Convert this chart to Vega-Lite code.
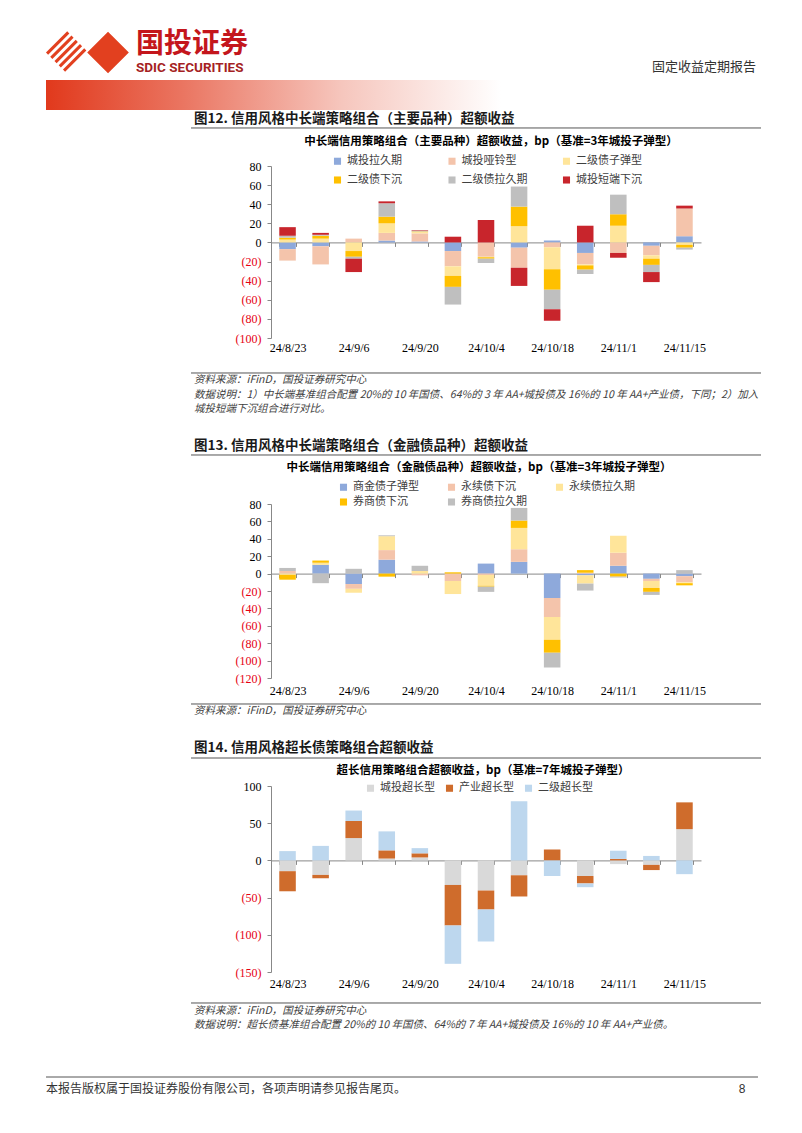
{
"$schema": "https://vega.github.io/schema/vega-lite/v6.json",
"background": "white",
"padding": {"left": 45, "top": 30, "right": 0, "bottom": 0},
"autosize": {"type": "pad"},
"bounds": "flush",
"spacing": 0,
"resolve": {"scale": {"x": "independent", "y": "independent", "color": "independent"}},
"config": {
  "view": {"stroke": null},
  "font": "Noto Sans CJK SC",
  "legend": {"symbolStrokeWidth": 0, "symbolType": "square", "symbolSize": 50, "labelFontSize": 11, "labelFont": "Noto Sans CJK SC", "labelColor": "#404040", "title": null, "gridAlign": "all", "labelOffset": 4}
},
"datasets": {
  "c1": [
    {"date":"24/8/23","series":"城投拉久期","k":1,"value":-7},{"date":"24/8/23","series":"城投哑铃型","k":2,"value":-12},{"date":"24/8/23","series":"二级债子弹型","k":3,"value":3},{"date":"24/8/23","series":"二级债下沉","k":4,"value":2},{"date":"24/8/23","series":"二级债拉久期","k":5,"value":2},{"date":"24/8/23","series":"城投短端下沉","k":6,"value":9},
    {"date":"24/8/30","series":"城投拉久期","k":1,"value":-4},{"date":"24/8/30","series":"城投哑铃型","k":2,"value":-19},{"date":"24/8/30","series":"二级债子弹型","k":3,"value":4},{"date":"24/8/30","series":"二级债下沉","k":4,"value":3},{"date":"24/8/30","series":"二级债拉久期","k":5,"value":1},{"date":"24/8/30","series":"城投短端下沉","k":6,"value":2},
    {"date":"24/9/6","series":"城投哑铃型","k":2,"value":4},{"date":"24/9/6","series":"二级债子弹型","k":3,"value":-9},{"date":"24/9/6","series":"二级债下沉","k":4,"value":-6},{"date":"24/9/6","series":"二级债拉久期","k":5,"value":-2},{"date":"24/9/6","series":"城投短端下沉","k":6,"value":-14},
    {"date":"24/9/13","series":"城投拉久期","k":1,"value":2},{"date":"24/9/13","series":"城投哑铃型","k":2,"value":8},{"date":"24/9/13","series":"二级债子弹型","k":3,"value":10},{"date":"24/9/13","series":"二级债下沉","k":4,"value":7},{"date":"24/9/13","series":"二级债拉久期","k":5,"value":14},{"date":"24/9/13","series":"城投短端下沉","k":6,"value":2},
    {"date":"24/9/20","series":"城投拉久期","k":1,"value":1},{"date":"24/9/20","series":"城投哑铃型","k":2,"value":8.5},{"date":"24/9/20","series":"二级债子弹型","k":3,"value":1.5},{"date":"24/9/20","series":"二级债下沉","k":4,"value":0.5},{"date":"24/9/20","series":"二级债拉久期","k":5,"value":1},{"date":"24/9/20","series":"城投短端下沉","k":6,"value":0.5},
    {"date":"24/9/27","series":"城投拉久期","k":1,"value":-9},{"date":"24/9/27","series":"城投哑铃型","k":2,"value":-16},{"date":"24/9/27","series":"二级债子弹型","k":3,"value":-10},{"date":"24/9/27","series":"二级债下沉","k":4,"value":-11.5},{"date":"24/9/27","series":"二级债拉久期","k":5,"value":-18.5},{"date":"24/9/27","series":"城投短端下沉","k":6,"value":6},
    {"date":"24/10/4","series":"城投哑铃型","k":2,"value":-15},{"date":"24/10/4","series":"二级债子弹型","k":3,"value":-0.5},{"date":"24/10/4","series":"二级债下沉","k":4,"value":-1.5},{"date":"24/10/4","series":"二级债拉久期","k":5,"value":-4.5},{"date":"24/10/4","series":"城投短端下沉","k":6,"value":23.5},
    {"date":"24/10/11","series":"城投拉久期","k":1,"value":-5.5},{"date":"24/10/11","series":"城投哑铃型","k":2,"value":-21},{"date":"24/10/11","series":"二级债子弹型","k":3,"value":17},{"date":"24/10/11","series":"二级债下沉","k":4,"value":20.5},{"date":"24/10/11","series":"二级债拉久期","k":5,"value":21},{"date":"24/10/11","series":"城投短端下沉","k":6,"value":-19},
    {"date":"24/10/18","series":"城投拉久期","k":1,"value":2},{"date":"24/10/18","series":"城投哑铃型","k":2,"value":-5},{"date":"24/10/18","series":"二级债子弹型","k":3,"value":-23},{"date":"24/10/18","series":"二级债下沉","k":4,"value":-21.5},{"date":"24/10/18","series":"二级债拉久期","k":5,"value":-20.5},{"date":"24/10/18","series":"城投短端下沉","k":6,"value":-12},
    {"date":"24/10/25","series":"城投拉久期","k":1,"value":-11},{"date":"24/10/25","series":"城投哑铃型","k":2,"value":-12},{"date":"24/10/25","series":"二级债子弹型","k":3,"value":-1},{"date":"24/10/25","series":"二级债下沉","k":4,"value":-4.5},{"date":"24/10/25","series":"二级债拉久期","k":5,"value":-4.5},{"date":"24/10/25","series":"城投短端下沉","k":6,"value":17.5},
    {"date":"24/11/1","series":"城投哑铃型","k":2,"value":-11},{"date":"24/11/1","series":"二级债子弹型","k":3,"value":17.5},{"date":"24/11/1","series":"二级债下沉","k":4,"value":12},{"date":"24/11/1","series":"二级债拉久期","k":5,"value":20.5},{"date":"24/11/1","series":"城投短端下沉","k":6,"value":-5},
    {"date":"24/11/8","series":"城投拉久期","k":1,"value":-3.5},{"date":"24/11/8","series":"城投哑铃型","k":2,"value":-10},{"date":"24/11/8","series":"二级债子弹型","k":3,"value":-3.5},{"date":"24/11/8","series":"二级债下沉","k":4,"value":-6.5},{"date":"24/11/8","series":"二级债拉久期","k":5,"value":-7.5},{"date":"24/11/8","series":"城投短端下沉","k":6,"value":-10.5},
    {"date":"24/11/15","series":"城投拉久期","k":1,"value":6.5},{"date":"24/11/15","series":"城投哑铃型","k":2,"value":29},{"date":"24/11/15","series":"二级债子弹型","k":3,"value":-2.5},{"date":"24/11/15","series":"二级债下沉","k":4,"value":-3},{"date":"24/11/15","series":"二级债拉久期","k":5,"value":-2},{"date":"24/11/15","series":"城投短端下沉","k":6,"value":3}
  ],
  "c2": [
    {"date":"24/8/23","series":"永续债下沉","k":2,"value":3},{"date":"24/8/23","series":"永续债拉久期","k":3,"value":-1.5},{"date":"24/8/23","series":"券商债下沉","k":4,"value":-5.5},{"date":"24/8/23","series":"券商债拉久期","k":5,"value":3.5},
    {"date":"24/8/30","series":"商金债子弹型","k":1,"value":10},{"date":"24/8/30","series":"永续债拉久期","k":3,"value":2.5},{"date":"24/8/30","series":"券商债下沉","k":4,"value":2.5},{"date":"24/8/30","series":"券商债拉久期","k":5,"value":-11},
    {"date":"24/9/6","series":"商金债子弹型","k":1,"value":-12},{"date":"24/9/6","series":"永续债下沉","k":2,"value":-5.5},{"date":"24/9/6","series":"永续债拉久期","k":3,"value":-4.5},{"date":"24/9/6","series":"券商债拉久期","k":5,"value":5.5},
    {"date":"24/9/13","series":"商金债子弹型","k":1,"value":16},{"date":"24/9/13","series":"永续债下沉","k":2,"value":11},{"date":"24/9/13","series":"永续债拉久期","k":3,"value":16},{"date":"24/9/13","series":"券商债下沉","k":4,"value":-3.5},{"date":"24/9/13","series":"券商债拉久期","k":5,"value":1},
    {"date":"24/9/20","series":"永续债下沉","k":2,"value":-2},{"date":"24/9/20","series":"永续债拉久期","k":3,"value":3},{"date":"24/9/20","series":"券商债拉久期","k":5,"value":6},
    {"date":"24/9/27","series":"永续债下沉","k":2,"value":-8.5},{"date":"24/9/27","series":"永续债拉久期","k":3,"value":-15},{"date":"24/9/27","series":"券商债下沉","k":4,"value":1.5},
    {"date":"24/10/4","series":"商金债子弹型","k":1,"value":11.5},{"date":"24/10/4","series":"永续债下沉","k":2,"value":-1.5},{"date":"24/10/4","series":"永续债拉久期","k":3,"value":-12.5},{"date":"24/10/4","series":"券商债下沉","k":4,"value":-1},{"date":"24/10/4","series":"券商债拉久期","k":5,"value":-6},
    {"date":"24/10/11","series":"商金债子弹型","k":1,"value":13.5},{"date":"24/10/11","series":"永续债下沉","k":2,"value":14.5},{"date":"24/10/11","series":"永续债拉久期","k":3,"value":24.5},{"date":"24/10/11","series":"券商债下沉","k":4,"value":8.5},{"date":"24/10/11","series":"券商债拉久期","k":5,"value":14.5},
    {"date":"24/10/18","series":"商金债子弹型","k":1,"value":-28},{"date":"24/10/18","series":"永续债下沉","k":2,"value":-22},{"date":"24/10/18","series":"永续债拉久期","k":3,"value":-26},{"date":"24/10/18","series":"券商债下沉","k":4,"value":-15},{"date":"24/10/18","series":"券商债拉久期","k":5,"value":-17},
    {"date":"24/10/25","series":"商金债子弹型","k":1,"value":-2},{"date":"24/10/25","series":"永续债下沉","k":2,"value":1},{"date":"24/10/25","series":"永续债拉久期","k":3,"value":-9.5},{"date":"24/10/25","series":"券商债下沉","k":4,"value":3},{"date":"24/10/25","series":"券商债拉久期","k":5,"value":-8},
    {"date":"24/11/1","series":"商金债子弹型","k":1,"value":9},{"date":"24/11/1","series":"永续债下沉","k":2,"value":15},{"date":"24/11/1","series":"永续债拉久期","k":3,"value":19.5},{"date":"24/11/1","series":"券商债下沉","k":4,"value":-3.5},{"date":"24/11/1","series":"券商债拉久期","k":5,"value":-1},
    {"date":"24/11/8","series":"商金债子弹型","k":1,"value":-6},{"date":"24/11/8","series":"永续债下沉","k":2,"value":-2.5},{"date":"24/11/8","series":"永续债拉久期","k":3,"value":-8},{"date":"24/11/8","series":"券商债下沉","k":4,"value":-4.5},{"date":"24/11/8","series":"券商债拉久期","k":5,"value":-3.5},
    {"date":"24/11/15","series":"商金债子弹型","k":1,"value":-3},{"date":"24/11/15","series":"永续债下沉","k":2,"value":-7},{"date":"24/11/15","series":"永续债拉久期","k":3,"value":-1},{"date":"24/11/15","series":"券商债下沉","k":4,"value":-2.5},{"date":"24/11/15","series":"券商债拉久期","k":5,"value":4}
  ],
  "c3": [
    {"date":"24/8/23","series":"城投超长型","k":1,"value":-14.5},{"date":"24/8/23","series":"产业超长型","k":2,"value":-27},{"date":"24/8/23","series":"二级超长型","k":3,"value":12.5},
    {"date":"24/8/30","series":"城投超长型","k":1,"value":-19.5},{"date":"24/8/30","series":"产业超长型","k":2,"value":-4.5},{"date":"24/8/30","series":"二级超长型","k":3,"value":19.5},
    {"date":"24/9/6","series":"城投超长型","k":1,"value":30},{"date":"24/9/6","series":"产业超长型","k":2,"value":23},{"date":"24/9/6","series":"二级超长型","k":3,"value":14},
    {"date":"24/9/13","series":"城投超长型","k":1,"value":2.5},{"date":"24/9/13","series":"产业超长型","k":2,"value":11},{"date":"24/9/13","series":"二级超长型","k":3,"value":25.5},
    {"date":"24/9/20","series":"城投超长型","k":1,"value":4},{"date":"24/9/20","series":"产业超长型","k":2,"value":5.5},{"date":"24/9/20","series":"二级超长型","k":3,"value":7},
    {"date":"24/9/27","series":"城投超长型","k":1,"value":-33},{"date":"24/9/27","series":"产业超长型","k":2,"value":-54.5},{"date":"24/9/27","series":"二级超长型","k":3,"value":-51.5},
    {"date":"24/10/4","series":"城投超长型","k":1,"value":-40.5},{"date":"24/10/4","series":"产业超长型","k":2,"value":-25.5},{"date":"24/10/4","series":"二级超长型","k":3,"value":-43},
    {"date":"24/10/11","series":"城投超长型","k":1,"value":-20},{"date":"24/10/11","series":"产业超长型","k":2,"value":-28.5},{"date":"24/10/11","series":"二级超长型","k":3,"value":79.5},
    {"date":"24/10/18","series":"产业超长型","k":2,"value":14.5},{"date":"24/10/18","series":"二级超长型","k":3,"value":-21},
    {"date":"24/10/25","series":"城投超长型","k":1,"value":-21},{"date":"24/10/25","series":"产业超长型","k":2,"value":-10},{"date":"24/10/25","series":"二级超长型","k":3,"value":-5},
    {"date":"24/11/1","series":"城投超长型","k":1,"value":-5},{"date":"24/11/1","series":"产业超长型","k":2,"value":2},{"date":"24/11/1","series":"二级超长型","k":3,"value":11},
    {"date":"24/11/8","series":"城投超长型","k":1,"value":-6},{"date":"24/11/8","series":"产业超长型","k":2,"value":-7},{"date":"24/11/8","series":"二级超长型","k":3,"value":6},
    {"date":"24/11/15","series":"城投超长型","k":1,"value":42},{"date":"24/11/15","series":"产业超长型","k":2,"value":36},{"date":"24/11/15","series":"二级超长型","k":3,"value":-18.5}
  ]
},
"vconcat": [
  {
    "width": 715, "height": 50,
    "data": {"values": [{}]},
    "layer": [
      {"mark": {"type": "point", "shape": "M-1,0L-0.5,-0.5L-0.45,-0.45L-0.95,0.05Z M-0.9,0.1L-0.4,-0.4L-0.35,-0.35L-0.85,0.15Z M-0.8,0.2L-0.3,-0.3L-0.25,-0.25L-0.75,0.25Z M-0.7,0.3L-0.2,-0.2L-0.15,-0.15L-0.65,0.35Z M-0.6,0.4L-0.1,-0.1L-0.05,-0.05L-0.55,0.45Z M-0.03,0L0.46,-0.49L0.95,0L0.46,0.49Z", "filled": true, "color": "#E2401F", "opacity": 1, "size": 7225, "strokeWidth": 0},
       "encoding": {"x": {"datum": 0.0594, "type": "quantitative", "scale": {"domain": [0, 1], "nice": false, "zero": false}, "axis": null}, "y": {"datum": 0.55, "type": "quantitative", "scale": {"domain": [0, 1], "nice": false, "zero": false}, "axis": null}}},
      {"mark": {"type": "text", "text": "国投证券", "align": "left", "baseline": "middle", "fontSize": 28, "fontWeight": "bold", "color": "#C4161C"},
       "encoding": {"x": {"datum": 0.1259, "type": "quantitative", "scale": {"domain": [0, 1], "nice": false, "zero": false}, "axis": null}, "y": {"datum": 0.7, "type": "quantitative", "scale": {"domain": [0, 1], "nice": false, "zero": false}, "axis": null}}},
      {"mark": {"type": "text", "text": "SDIC SECURITIES", "align": "left", "baseline": "middle", "fontSize": 13.5, "fontWeight": "bold", "font": "Roboto", "color": "#A51F24"},
       "encoding": {"x": {"datum": 0.1259, "type": "quantitative", "scale": {"domain": [0, 1], "nice": false, "zero": false}, "axis": null}, "y": {"datum": 0.24, "type": "quantitative", "scale": {"domain": [0, 1], "nice": false, "zero": false}, "axis": null}}},
      {"mark": {"type": "text", "text": "固定收益定期报告", "align": "right", "baseline": "middle", "fontSize": 13, "color": "#333333"},
       "encoding": {"x": {"datum": 0.993, "type": "quantitative", "scale": {"domain": [0, 1], "nice": false, "zero": false}, "axis": null}, "y": {"datum": 0.26, "type": "quantitative", "scale": {"domain": [0, 1], "nice": false, "zero": false}, "axis": null}}}
    ]
  },
  {
    "width": 455, "height": 30,
    "data": {"values": [{}]},
    "mark": {"type": "rect", "fill": {"gradient": "linear", "x1": 0, "x2": 1, "y1": 0, "y2": 0, "stops": [{"offset": 0, "color": "#E1391C"}, {"offset": 0.3, "color": "#EA7561"}, {"offset": 0.65, "color": "#F6C6BD"}, {"offset": 1, "color": "#FFFFFF"}]}, "strokeWidth": 0},
    "encoding": {"x": {"datum": 0, "type": "quantitative", "scale": {"domain": [0, 1], "nice": false, "zero": false}, "axis": null}, "x2": {"datum": 1}, "y": {"datum": 0, "type": "quantitative", "scale": {"domain": [0, 1], "nice": false, "zero": false}, "axis": null}, "y2": {"datum": 1}}
  },
  {
    "width": 715, "height": 56,
    "data": {"values": [{}]},
    "layer": [
      {"mark": {"type": "rule", "color": "#555555", "strokeWidth": 1},
       "encoding": {"x": {"datum": 0.2028, "type": "quantitative", "scale": {"domain": [0, 1], "nice": false, "zero": false}, "axis": null}, "x2": {"datum": 1}, "y": {"datum": 0.679, "type": "quantitative", "scale": {"domain": [0, 1], "nice": false, "zero": false}, "axis": null}}},
      {"mark": {"type": "text", "text": "图12. 信用风格中长端策略组合（主要品种）超额收益", "align": "left", "baseline": "middle", "fontSize": 13.5, "fontWeight": "bold", "color": "#1A1A1A"},
       "encoding": {"x": {"datum": 0.207, "type": "quantitative", "scale": {"domain": [0, 1], "nice": false, "zero": false}, "axis": null}, "y": {"datum": 0.839, "type": "quantitative", "scale": {"domain": [0, 1], "nice": false, "zero": false}, "axis": null}}},
      {"mark": {"type": "text", "text": "中长端信用策略组合（主要品种）超额收益，bp（基准=3年城投子弹型）", "align": "center", "baseline": "middle", "fontSize": 11.5, "fontWeight": "bold", "color": "#000000"},
       "encoding": {"x": {"datum": 0.6224, "type": "quantitative", "scale": {"domain": [0, 1], "nice": false, "zero": false}, "axis": null}, "y": {"datum": 0.4375, "type": "quantitative", "scale": {"domain": [0, 1], "nice": false, "zero": false}, "axis": null}}}
    ]
  },
  {
    "width": 715, "height": 172,
    "data": {"name": "c1"},
    "mark": {"type": "bar", "strokeWidth": 0},
    "encoding": {
      "x": {"field": "date", "type": "ordinal", "sort": ["24/8/23","24/8/30","24/9/6","24/9/13","24/9/20","24/9/27","24/10/4","24/10/11","24/10/18","24/10/25","24/11/1","24/11/8","24/11/15"],
            "scale": {"range": [225, 655], "paddingInner": 0.5, "paddingOuter": 0.25},
            "axis": {"title": null, "offset": -95.6, "labelPadding": 96, "tickBand": "extent", "tickSize": 4, "labelAngle": 0, "labelOverlap": false, "labelExpr": "indexof(['24/8/23','24/9/6','24/9/20','24/10/4','24/10/18','24/11/1','24/11/15'], datum.value) >= 0 ? datum.value : ''", "domainColor": "#888888", "tickColor": "#888888", "labelFont": "Liberation Serif", "labelFontSize": 12, "labelColor": "#000000", "grid": false}},
      "y": {"field": "value", "type": "quantitative", "stack": "zero",
            "scale": {"domain": [-100, 80], "nice": false, "zero": false},
            "axis": {"title": null, "offset": -225, "values": [-100, -80, -60, -40, -20, 0, 20, 40, 60, 80], "grid": false, "tickSize": 4, "labelPadding": 6, "domainColor": "#888888", "tickColor": "#888888", "labelFont": "Liberation Serif", "labelFontSize": 12, "labelExpr": "datum.value < 0 ? '(' + format(-datum.value, 'd') + ')' : format(datum.value, 'd') + '\u00a0'", "labelColor": {"condition": {"test": "datum.value < 0", "value": "#E60012"}, "value": "#000000"}}},
      "color": {"field": "series", "type": "nominal",
            "scale": {"domain": ["城投拉久期","城投哑铃型","二级债子弹型","二级债下沉","二级债拉久期","城投短端下沉"], "range": ["#8EA9DB","#F4C4AB","#FFE59A","#FFC000","#BFBFBF","#C8252C"]},
            "legend": {"orient": "none", "legendX": 286, "legendY": -10.5, "direction": "horizontal", "columns": 3, "columnPadding": 33.5, "rowPadding": 7}},
      "order": {"field": "k", "type": "quantitative"}
    }
  },
  {
    "width": 715, "height": 94,
    "data": {"values": [{}]},
    "layer": [
      {"mark": {"type": "rule", "color": "#555555", "strokeWidth": 1},
       "encoding": {"x": {"datum": 0.2028, "type": "quantitative", "scale": {"domain": [0, 1], "nice": false, "zero": false}, "axis": null}, "x2": {"datum": 1}, "y": {"datum": 0.6277, "type": "quantitative", "scale": {"domain": [0, 1], "nice": false, "zero": false}, "axis": null}}},
      {"mark": {"type": "text", "text": "资料来源：iFinD，国投证券研究中心", "align": "left", "baseline": "middle", "fontSize": 10.5, "fontStyle": "italic", "color": "#404040"},
       "encoding": {"x": {"datum": 0.207, "type": "quantitative", "scale": {"domain": [0, 1], "nice": false, "zero": false}, "axis": null}, "y": {"datum": 0.5479, "type": "quantitative", "scale": {"domain": [0, 1], "nice": false, "zero": false}, "axis": null}}},
      {"mark": {"type": "text", "text": "数据说明：1）中长端基准组合配置 20%的 10 年国债、64%的 3 年 AA+城投债及 16%的 10 年 AA+产业债，下同；2）加入", "align": "left", "baseline": "middle", "fontSize": 10.5, "fontStyle": "italic", "color": "#404040"},
       "encoding": {"x": {"datum": 0.207, "type": "quantitative", "scale": {"domain": [0, 1], "nice": false, "zero": false}, "axis": null}, "y": {"datum": 0.3989, "type": "quantitative", "scale": {"domain": [0, 1], "nice": false, "zero": false}, "axis": null}}},
      {"mark": {"type": "text", "text": "城投短端下沉组合进行对比。", "align": "left", "baseline": "middle", "fontSize": 10.5, "fontStyle": "italic", "color": "#404040"},
       "encoding": {"x": {"datum": 0.207, "type": "quantitative", "scale": {"domain": [0, 1], "nice": false, "zero": false}, "axis": null}, "y": {"datum": 0.25, "type": "quantitative", "scale": {"domain": [0, 1], "nice": false, "zero": false}, "axis": null}}}
    ]
  },
  {
    "width": 715, "height": 72,
    "data": {"values": [{}]},
    "layer": [
      {"mark": {"type": "rule", "color": "#555555", "strokeWidth": 1},
       "encoding": {"x": {"datum": 0.2028, "type": "quantitative", "scale": {"domain": [0, 1], "nice": false, "zero": false}, "axis": null}, "x2": {"datum": 1}, "y": {"datum": 0.6806, "type": "quantitative", "scale": {"domain": [0, 1], "nice": false, "zero": false}, "axis": null}}},
      {"mark": {"type": "text", "text": "图13. 信用风格中长端策略组合（金融债品种）超额收益", "align": "left", "baseline": "middle", "fontSize": 13.5, "fontWeight": "bold", "color": "#1A1A1A"},
       "encoding": {"x": {"datum": 0.207, "type": "quantitative", "scale": {"domain": [0, 1], "nice": false, "zero": false}, "axis": null}, "y": {"datum": 0.8125, "type": "quantitative", "scale": {"domain": [0, 1], "nice": false, "zero": false}, "axis": null}}},
      {"mark": {"type": "text", "text": "中长端信用策略组合（金融债品种）超额收益，bp（基准=3年城投子弹型）", "align": "center", "baseline": "middle", "fontSize": 11.5, "fontWeight": "bold", "color": "#000000"},
       "encoding": {"x": {"datum": 0.6056, "type": "quantitative", "scale": {"domain": [0, 1], "nice": false, "zero": false}, "axis": null}, "y": {"datum": 0.5069, "type": "quantitative", "scale": {"domain": [0, 1], "nice": false, "zero": false}, "axis": null}}}
    ]
  },
  {
    "width": 715, "height": 174,
    "data": {"name": "c2"},
    "mark": {"type": "bar", "strokeWidth": 0},
    "encoding": {
      "x": {"field": "date", "type": "ordinal", "sort": ["24/8/23","24/8/30","24/9/6","24/9/13","24/9/20","24/9/27","24/10/4","24/10/11","24/10/18","24/10/25","24/11/1","24/11/8","24/11/15"],
            "scale": {"range": [225, 655], "paddingInner": 0.5, "paddingOuter": 0.25},
            "axis": {"title": null, "offset": -104.4, "labelPadding": 108, "tickBand": "extent", "tickSize": 4, "labelAngle": 0, "labelOverlap": false, "labelExpr": "indexof(['24/8/23','24/9/6','24/9/20','24/10/4','24/10/18','24/11/1','24/11/15'], datum.value) >= 0 ? datum.value : ''", "domainColor": "#888888", "tickColor": "#888888", "labelFont": "Liberation Serif", "labelFontSize": 12, "labelColor": "#000000", "grid": false}},
      "y": {"field": "value", "type": "quantitative", "stack": "zero",
            "scale": {"domain": [-120, 80], "nice": false, "zero": false},
            "axis": {"title": null, "offset": -225, "values": [-120, -100, -80, -60, -40, -20, 0, 20, 40, 60, 80], "grid": false, "tickSize": 4, "labelPadding": 6, "domainColor": "#888888", "tickColor": "#888888", "labelFont": "Liberation Serif", "labelFontSize": 12, "labelExpr": "datum.value < 0 ? '(' + format(-datum.value, 'd') + ')' : format(datum.value, 'd') + '\u00a0'", "labelColor": {"condition": {"test": "datum.value < 0", "value": "#E60012"}, "value": "#000000"}}},
      "color": {"field": "series", "type": "nominal",
            "scale": {"domain": ["商金债子弹型","永续债下沉","永续债拉久期","券商债下沉","券商债拉久期"], "range": ["#8EA9DB","#F4C4AB","#FFE59A","#FFC000","#BFBFBF"]},
            "legend": {"orient": "none", "legendX": 292, "legendY": -22.5, "direction": "horizontal", "columns": 3, "columnPadding": 27, "rowPadding": 3}},
      "order": {"field": "k", "type": "quantitative"}
    }
  },
  {
    "width": 715, "height": 57,
    "data": {"values": [{}]},
    "layer": [
      {"mark": {"type": "rule", "color": "#555555", "strokeWidth": 1},
       "encoding": {"x": {"datum": 0.2028, "type": "quantitative", "scale": {"domain": [0, 1], "nice": false, "zero": false}, "axis": null}, "x2": {"datum": 1}, "y": {"datum": 0.5439, "type": "quantitative", "scale": {"domain": [0, 1], "nice": false, "zero": false}, "axis": null}}},
      {"mark": {"type": "text", "text": "资料来源：iFinD，国投证券研究中心", "align": "left", "baseline": "middle", "fontSize": 10.5, "fontStyle": "italic", "color": "#404040"},
       "encoding": {"x": {"datum": 0.207, "type": "quantitative", "scale": {"domain": [0, 1], "nice": false, "zero": false}, "axis": null}, "y": {"datum": 0.4123, "type": "quantitative", "scale": {"domain": [0, 1], "nice": false, "zero": false}, "axis": null}}}
    ]
  },
  {
    "width": 715, "height": 51,
    "data": {"values": [{}]},
    "layer": [
      {"mark": {"type": "rule", "color": "#555555", "strokeWidth": 1},
       "encoding": {"x": {"datum": 0.2028, "type": "quantitative", "scale": {"domain": [0, 1], "nice": false, "zero": false}, "axis": null}, "x2": {"datum": 1}, "y": {"datum": 0.549, "type": "quantitative", "scale": {"domain": [0, 1], "nice": false, "zero": false}, "axis": null}}},
      {"mark": {"type": "text", "text": "图14. 信用风格超长债策略组合超额收益", "align": "left", "baseline": "middle", "fontSize": 13.5, "fontWeight": "bold", "color": "#1A1A1A"},
       "encoding": {"x": {"datum": 0.207, "type": "quantitative", "scale": {"domain": [0, 1], "nice": false, "zero": false}, "axis": null}, "y": {"datum": 0.745, "type": "quantitative", "scale": {"domain": [0, 1], "nice": false, "zero": false}, "axis": null}}},
      {"mark": {"type": "text", "text": "超长信用策略组合超额收益，bp（基准=7年城投子弹型）", "align": "center", "baseline": "middle", "fontSize": 11.5, "fontWeight": "bold", "color": "#000000"},
       "encoding": {"x": {"datum": 0.6112, "type": "quantitative", "scale": {"domain": [0, 1], "nice": false, "zero": false}, "axis": null}, "y": {"datum": 0.3039, "type": "quantitative", "scale": {"domain": [0, 1], "nice": false, "zero": false}, "axis": null}}}
    ]
  },
  {
    "width": 715, "height": 186,
    "data": {"name": "c3"},
    "mark": {"type": "bar", "strokeWidth": 0},
    "encoding": {
      "x": {"field": "date", "type": "ordinal", "sort": ["24/8/23","24/8/30","24/9/6","24/9/13","24/9/20","24/9/27","24/10/4","24/10/11","24/10/18","24/10/25","24/11/1","24/11/8","24/11/15"],
            "scale": {"range": [225, 655], "paddingInner": 0.5, "paddingOuter": 0.25},
            "axis": {"title": null, "offset": -111.6, "labelPadding": 114, "tickBand": "extent", "tickSize": 4, "labelAngle": 0, "labelOverlap": false, "labelExpr": "indexof(['24/8/23','24/9/6','24/9/20','24/10/4','24/10/18','24/11/1','24/11/15'], datum.value) >= 0 ? datum.value : ''", "domainColor": "#888888", "tickColor": "#888888", "labelFont": "Liberation Serif", "labelFontSize": 12, "labelColor": "#000000", "grid": false}},
      "y": {"field": "value", "type": "quantitative", "stack": "zero",
            "scale": {"domain": [-150, 100], "nice": false, "zero": false},
            "axis": {"title": null, "offset": -225, "values": [-150, -100, -50, 0, 50, 100], "grid": false, "tickSize": 4, "labelPadding": 6, "domainColor": "#888888", "tickColor": "#888888", "labelFont": "Liberation Serif", "labelFontSize": 12, "labelExpr": "datum.value < 0 ? '(' + format(-datum.value, 'd') + ')' : format(datum.value, 'd') + '\u00a0'", "labelColor": {"condition": {"test": "datum.value < 0", "value": "#E60012"}, "value": "#000000"}}},
      "color": {"field": "series", "type": "nominal",
            "scale": {"domain": ["城投超长型","产业超长型","二级超长型"], "range": ["#D9D9D9","#CF6C2C","#BDD7EE"]},
            "legend": {"orient": "none", "legendX": 319, "legendY": -3.5, "direction": "horizontal", "columns": 3, "columnPadding": 9}},
      "order": {"field": "k", "type": "quantitative"}
    }
  },
  {
    "width": 715, "height": 105,
    "data": {"values": [{}]},
    "layer": [
      {"mark": {"type": "rule", "color": "#555555", "strokeWidth": 1},
       "encoding": {"x": {"datum": 0.2028, "type": "quantitative", "scale": {"domain": [0, 1], "nice": false, "zero": false}, "axis": null}, "x2": {"datum": 1}, "y": {"datum": 0.7048, "type": "quantitative", "scale": {"domain": [0, 1], "nice": false, "zero": false}, "axis": null}}},
      {"mark": {"type": "rule", "color": "#555555", "strokeWidth": 1},
       "encoding": {"x": {"datum": 0, "type": "quantitative", "scale": {"domain": [0, 1], "nice": false, "zero": false}, "axis": null}, "x2": {"datum": 0.9958}, "y": {"datum": 0, "type": "quantitative", "scale": {"domain": [0, 1], "nice": false, "zero": false}, "axis": null}}},
      {"mark": {"type": "text", "text": "资料来源：iFinD，国投证券研究中心", "align": "left", "baseline": "middle", "fontSize": 10.5, "fontStyle": "italic", "color": "#404040"},
       "encoding": {"x": {"datum": 0.207, "type": "quantitative", "scale": {"domain": [0, 1], "nice": false, "zero": false}, "axis": null}, "y": {"datum": 0.6333, "type": "quantitative", "scale": {"domain": [0, 1], "nice": false, "zero": false}, "axis": null}}},
      {"mark": {"type": "text", "text": "数据说明：超长债基准组合配置 20%的 10 年国债、64%的 7 年 AA+城投债及 16%的 10 年 AA+产业债。", "align": "left", "baseline": "middle", "fontSize": 10.5, "fontStyle": "italic", "color": "#404040"},
       "encoding": {"x": {"datum": 0.207, "type": "quantitative", "scale": {"domain": [0, 1], "nice": false, "zero": false}, "axis": null}, "y": {"datum": 0.5, "type": "quantitative", "scale": {"domain": [0, 1], "nice": false, "zero": false}, "axis": null}}}
    ]
  },
  {
    "width": 715, "height": 23,
    "data": {"values": [{}]},
    "layer": [
      {"mark": {"type": "text", "text": "本报告版权属于国投证券股份有限公司，各项声明请参见报告尾页。", "align": "left", "baseline": "middle", "fontSize": 12, "color": "#333333"},
       "encoding": {"x": {"datum": 0, "type": "quantitative", "scale": {"domain": [0, 1], "nice": false, "zero": false}, "axis": null}, "y": {"datum": 0.5, "type": "quantitative", "scale": {"domain": [0, 1], "nice": false, "zero": false}, "axis": null}}},
      {"mark": {"type": "text", "text": "8", "align": "center", "baseline": "middle", "fontSize": 12, "font": "Liberation Sans", "color": "#333333"},
       "encoding": {"x": {"datum": 0.9734, "type": "quantitative", "scale": {"domain": [0, 1], "nice": false, "zero": false}, "axis": null}, "y": {"datum": 0.5, "type": "quantitative", "scale": {"domain": [0, 1], "nice": false, "zero": false}, "axis": null}}}
    ]
  }
]
}
